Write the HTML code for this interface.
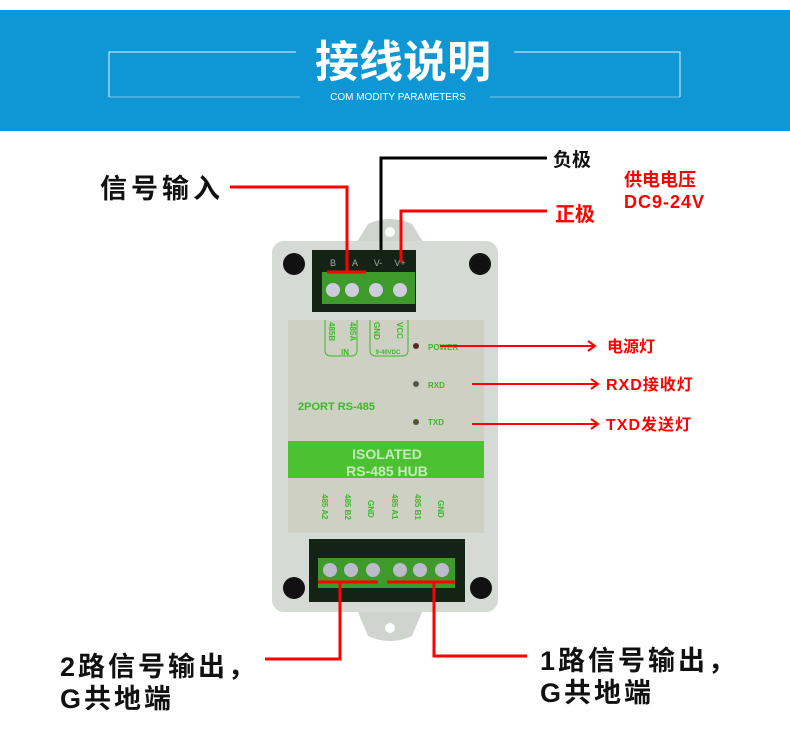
<!DOCTYPE html>
<html><head><meta charset="utf-8"><style>
body{margin:0;width:790px;height:741px;background:#fff;overflow:hidden}
svg{display:block}
</style></head><body>
<svg width="790" height="741" viewBox="0 0 790 741" font-family="Liberation Sans, Noto Sans CJK SC, sans-serif">
<rect x="0" y="10" width="790" height="121" fill="#0e97d4"/>
<g stroke="#e8f4fb" stroke-width="1" fill="none">
<path d="M109 97 V52 H296"/><path d="M514 52 H680 V97"/>
<path d="M109 97 H300" opacity="0.5"/><path d="M490 97 H680" opacity="0.5"/>
</g>
<text x="403" y="77" text-anchor="middle" fill="#fff" font-size="44" font-weight="bold" font-family="Noto Sans CJK SC, sans-serif">接线说明</text>
<text x="398" y="100" text-anchor="middle" fill="#fff" font-size="10">COM MODITY PARAMETERS</text>

<!-- device -->
<path d="M355 245 L368 224 Q390 214 412 224 L425 245 Z" fill="#cfd4cf"/>
<path d="M355 605 L368 636 Q390 646 412 636 L425 605 Z" fill="#cfd4cf"/>
<circle cx="390" cy="232" r="5" fill="#fff"/><circle cx="390" cy="628" r="5" fill="#fff"/>
<rect x="272" y="241" width="226" height="371" rx="12" fill="#d6dad5"/>
<circle cx="294" cy="264" r="11" fill="#111"/><circle cx="480" cy="264" r="11" fill="#111"/>
<circle cx="294" cy="588" r="11" fill="#111"/><circle cx="481" cy="588" r="11" fill="#111"/>
<rect x="312" y="250" width="104" height="62" fill="#142414"/>
<rect x="322" y="272" width="93" height="32" fill="#3f9a2c"/>
<g fill="#ccd"><circle cx="333" cy="290" r="7"/><circle cx="352" cy="290" r="7"/><circle cx="376" cy="290" r="7"/><circle cx="400" cy="290" r="7"/></g>
<g fill="#aaa" font-size="9"><text x="333" y="266" text-anchor="middle">B</text><text x="355" y="266" text-anchor="middle">A</text><text x="378" y="266" text-anchor="middle">V-</text><text x="400" y="266" text-anchor="middle">V+</text></g>
<rect x="288" y="320" width="196" height="213" fill="#cdd0c2"/>
<rect x="288" y="441" width="196" height="37" fill="#4cc232"/>
<text x="387" y="459" text-anchor="middle" fill="#c8e8c0" font-size="14" font-weight="bold">ISOLATED</text>
<text x="387" y="476" text-anchor="middle" fill="#c8e8c0" font-size="14" font-weight="bold">RS-485 HUB</text>
<g fill="#3cb82a" font-size="8" font-weight="bold">
<text x="298" y="410" font-size="11">2PORT RS-485</text>
<text x="428" y="350">POWER</text><text x="428" y="388">RXD</text><text x="428" y="425">TXD</text>
<text x="345" y="355" text-anchor="middle">IN</text><text x="388" y="354" text-anchor="middle" font-size="6">9-40VDC</text>
<text transform="translate(329,322) rotate(90)">485B</text><text transform="translate(350,322) rotate(90)">485A</text>
<text transform="translate(374,322) rotate(90)">GND</text><text transform="translate(397,322) rotate(90)">VCC</text>
</g>
<path d="M325 320 V350 Q325 356 331 356 H351 Q357 356 357 350 V320 M370 320 V350 Q370 356 376 356 H402 Q408 356 408 350 V320" stroke="#3cb82a" fill="none"/>
<circle cx="416" cy="346" r="3" fill="#5a2a22"/><circle cx="416" cy="384" r="3" fill="#555"/><circle cx="416" cy="422" r="3" fill="#553"/>
<rect x="309" y="539" width="156" height="63" fill="#142414"/>
<rect x="318" y="558" width="137" height="30" fill="#3f9a2c"/>
<g fill="#bbc"><circle cx="330" cy="570" r="7"/><circle cx="351" cy="570" r="7"/><circle cx="373" cy="570" r="7"/><circle cx="400" cy="570" r="7"/><circle cx="420" cy="570" r="7"/><circle cx="442" cy="570" r="7"/></g>
<g fill="#3cb82a" font-size="8" font-weight="bold">
<text transform="translate(322,494) rotate(90)">485 A2</text><text transform="translate(345,494) rotate(90)">485 B2</text><text transform="translate(368,500) rotate(90)">GND</text>
<text transform="translate(392,494) rotate(90)">485 A1</text><text transform="translate(415,494) rotate(90)">485 B1</text><text transform="translate(438,500) rotate(90)">GND</text>
</g>

<!-- wires -->
<path d="M381 250 V158 H547" stroke="#000" stroke-width="3" fill="none"/>
<path d="M401 262 V211 H547" stroke="#f00" stroke-width="3" fill="none"/>
<path d="M230 187 H347 V272 M327 272 H366" stroke="#f00" stroke-width="3" fill="none"/>
<path d="M318 582 H378 M387 582 H455 M340 582 V659 H265 M434 582 V656 H527" stroke="#f00" stroke-width="3" fill="none"/>
<g stroke="#f00" stroke-width="2" fill="none">
<path d="M440 346 H595 M588 341 L595 346 L588 351"/>
<path d="M472 384 H598 M591 379 L598 384 L591 389"/>
<path d="M472 424 H598 M591 419 L598 424 L591 429"/>
</g>
<g font-family="Liberation Sans, Noto Sans CJK SC, sans-serif" font-weight="bold">
<text x="553" y="166" font-size="19" fill="#111">负极</text>
<text x="555" y="221" font-size="20" fill="#f00">正极</text>
<text x="624" y="186" font-size="18" fill="#f00">供电电压</text>
<text x="624" y="208" font-size="18" fill="#f00" letter-spacing="1">DC9-24V</text>
<text x="100" y="198" font-size="27" fill="#111" letter-spacing="4">信号输入</text>
<text x="60" y="676" font-size="27" fill="#111" letter-spacing="3">2路信号输出，</text>
<text x="60" y="708" font-size="27" fill="#111" letter-spacing="3">G共地端</text>
<text x="540" y="670" font-size="27" fill="#111" letter-spacing="3">1路信号输出，</text>
<text x="540" y="702" font-size="27" fill="#111" letter-spacing="3">G共地端</text>
<text x="607" y="352" font-size="16" fill="#f00">电源灯</text>
<text x="606" y="390" font-size="16" fill="#f00" letter-spacing="1">RXD接收灯</text>
<text x="606" y="430" font-size="16" fill="#f00" letter-spacing="1">TXD发送灯</text>
</g>
</svg>
</body></html>
